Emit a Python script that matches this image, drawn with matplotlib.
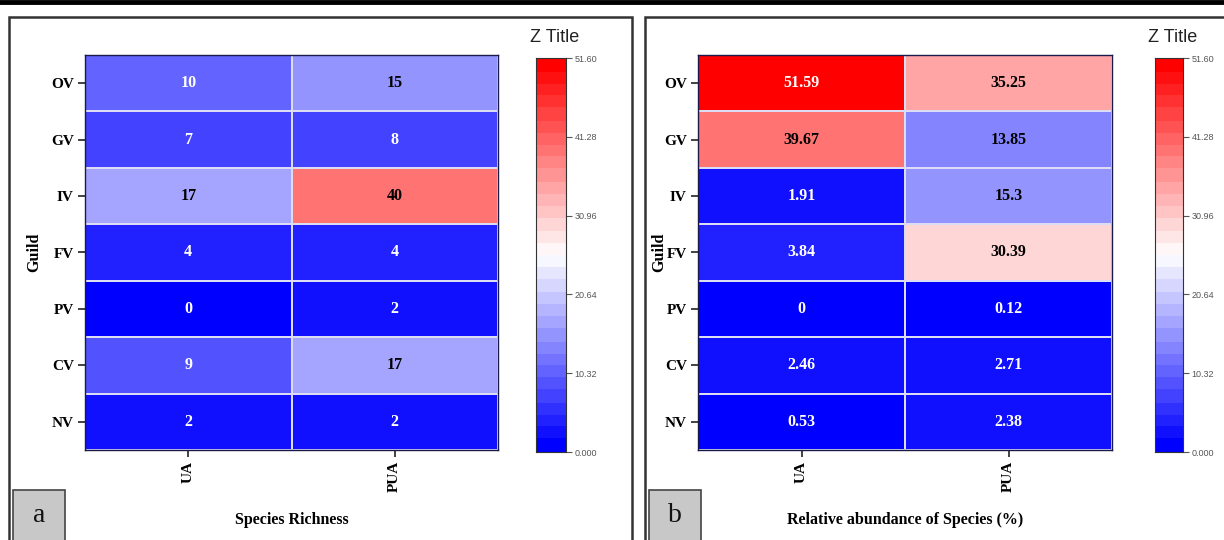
import numpy as np
import matplotlib
matplotlib.use('Agg')
import matplotlib.pyplot as plt
from matplotlib.patches import Rectangle
from matplotlib.lines import Line2D

# ---------- data ----------
guilds = ['OV', 'GV', 'IV', 'FV', 'PV', 'CV', 'NV']
areas = ['UA', 'PUA']
richness_ua = [10, 7, 17, 4, 0, 9, 2]
richness_pua = [15, 8, 40, 4, 2, 17, 2]
abund_ua = [51.59, 39.67, 1.91, 3.84, 0, 2.46, 0.53]
abund_pua = [35.25, 13.85, 15.3, 30.39, 0.12, 2.71, 2.38]
cbar_ticks = [0.0, 10.32, 20.64, 30.96, 41.28, 51.60]
cbar_labels = ['0.000', '10.32', '20.64', '30.96', '41.28', '51.60']
zmax = 51.60

W, H = 1224, 540
fig = plt.figure(figsize=(W / 100, H / 100), dpi=100)
fig.patch.set_facecolor('white')

serif = ['Liberation Serif', 'DejaVu Serif']
sans = ['Liberation Sans', 'DejaVu Sans']
cmap = plt.get_cmap('bwr', 32)


def px(x0, y0, x1, y1):
    # pixel box (top-left origin) -> figure fraction rect
    return [x0 / W, (H - y1) / H, (x1 - x0) / W, (y1 - y0) / H]


def heat_panel(hx0, hx1, cx0, cx1, col_ua, col_pua, xlabel, letter, fx0, fx1, ylab_x):
    # panel frame
    fig.patches.append(Rectangle((fx0 / W, -0.05), (fx1 - fx0) / W, (H - 17) / H + 0.05,
                                 transform=fig.transFigure, fill=False,
                                 edgecolor='#333333', linewidth=1.8, zorder=0))
    ax = fig.add_axes(px(hx0, 55, hx1, 450))
    Z = np.array([col_ua, col_pua]).T
    ax.pcolormesh(np.arange(3), np.arange(8), Z, cmap=cmap, vmin=0, vmax=zmax,
                  edgecolors='#dcdcf5', linewidth=1.2)
    ax.set_xlim(0, 2)
    ax.set_ylim(7, 0)
    for i in range(len(guilds)):
        for j, v in enumerate([col_ua[i], col_pua[i]]):
            c = 'white' if (v < 12 or v > 45) else 'black'
            ax.text(j + 0.5, i + 0.5, '{:g}'.format(v), ha='center', va='center',
                    color=c, fontsize=11.5, fontweight='bold', family=serif)
    ax.set_yticks(np.arange(7) + 0.5)
    ax.set_yticklabels(guilds, fontsize=11, fontweight='bold', family=serif)
    ax.set_xticks([0.5, 1.5])
    ax.set_xticklabels(areas, rotation=90, fontsize=11, fontweight='bold', family=serif)
    ax.tick_params(length=5, width=1.2, color='#222222', pad=3)
    for s in ax.spines.values():
        s.set_color('#1a1a4a')
        s.set_linewidth(1.0)
    ax.set_xlabel(xlabel, fontsize=11.5, fontweight='bold', family=serif, labelpad=14)
    ax.set_ylabel('Guild', fontsize=11.5, fontweight='bold', family=serif)
    # label coordinate is the right edge of the rotated text
    ax.yaxis.set_label_coords((ylab_x - hx0) / (hx1 - hx0), 0.5)

    # colorbar
    cax = fig.add_axes(px(cx0, 58, cx1, 452))
    grad = np.linspace(0, zmax, 200).reshape(-1, 1)
    cax.pcolormesh([0, 1], np.linspace(0, zmax, 201), grad, cmap=cmap, vmin=0, vmax=zmax)
    cax.set_ylim(0, zmax)
    cax.set_xticks([])
    cax.yaxis.tick_right()
    cax.set_yticks(cbar_ticks)
    cax.set_yticklabels(cbar_labels, fontsize=6.5, color='#555555', family=sans)
    cax.tick_params(axis='y', length=4, width=0.8, color='#555555', pad=2)
    for s in cax.spines.values():
        s.set_color('#333333')
        s.set_linewidth(0.8)
    fig.text((cx0 + cx1) / 2 / W + 0.003, 1 - 38 / H, 'Z Title', ha='center', va='center',
             fontsize=13, family=sans, color='#222222')

    # letter box
    lx0 = fx0 + 4
    fig.patches.append(Rectangle((lx0 / W, -0.01), 52 / W, (50 + 5) / H,
                                 transform=fig.transFigure, facecolor='#c8c8c8',
                                 edgecolor='#444444', linewidth=1.2, zorder=1))
    fig.text((lx0 + 26) / W, 1 - 516 / H, letter, ha='center', va='center',
             fontsize=20, family=serif, color='#111111', zorder=2)


heat_panel(85, 498, 536, 566, richness_ua, richness_pua, 'Species Richness', 'a', 9, 632, 42)
heat_panel(698, 1112, 1155, 1183, abund_ua, abund_pua,
           'Relative abundance of Species (%)', 'b', 645, 1232, 667)

# thick top border
fig.lines.append(Line2D([0, 1], [1 - 2 / H, 1 - 2 / H], transform=fig.transFigure,
                        color='black', linewidth=3.5))

fig.savefig('out.png', dpi=100)
